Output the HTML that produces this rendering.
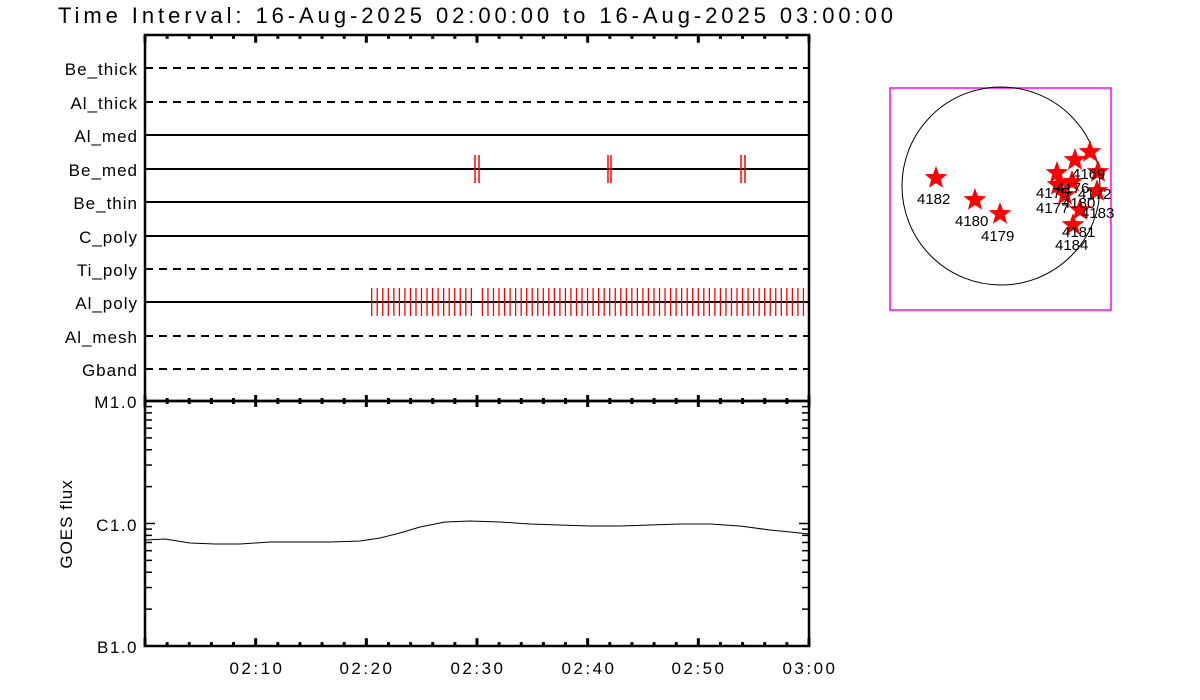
<!DOCTYPE html>
<html><head><meta charset="utf-8"><style>
html,body{margin:0;padding:0;background:#fff;}
svg{display:block;font-family:"Liberation Sans","DejaVu Sans",sans-serif;}
</style></head><body>
<svg width="1200" height="700" viewBox="0 0 1200 700" xmlns="http://www.w3.org/2000/svg">
<rect width="1200" height="700" fill="#fff"/>
<text x="58" y="23" font-size="22" fill="#000" textLength="835" lengthAdjust="spacing">Time Interval: 16-Aug-2025 02:00:00 to 16-Aug-2025 03:00:00</text>
<g font-size="17" text-anchor="end" fill="#000" letter-spacing="1">
<text x="138" y="75">Be_thick</text><text x="138" y="109">Al_thick</text><text x="138" y="142">Al_med</text>
<text x="138" y="176">Be_med</text><text x="138" y="209">Be_thin</text><text x="138" y="243">C_poly</text>
<text x="138" y="276">Ti_poly</text><text x="138" y="309">Al_poly</text><text x="138" y="343">Al_mesh</text>
<text x="138" y="376">Gband</text>
</g>
<g stroke="#000" stroke-width="2">
<line x1="145" y1="68" x2="809" y2="68" stroke-dasharray="8,6"/>
<line x1="145" y1="102" x2="809" y2="102" stroke-dasharray="8,6"/>
<line x1="145" y1="135" x2="809" y2="135"/>
<line x1="145" y1="169" x2="809" y2="169"/>
<line x1="145" y1="202" x2="809" y2="202"/>
<line x1="145" y1="236" x2="809" y2="236"/>
<line x1="145" y1="269" x2="809" y2="269" stroke-dasharray="8,6"/>
<line x1="145" y1="302" x2="809" y2="302"/>
<line x1="145" y1="336" x2="809" y2="336" stroke-dasharray="8,6"/>
<line x1="145" y1="369" x2="809" y2="369" stroke-dasharray="8,6"/>
</g>
<g stroke="#f00" stroke-width="1.3" id="ticks"></g>
<g stroke="#f00" stroke-width="1.5">
<line x1="475" y1="155" x2="475" y2="183"/><line x1="479" y1="155" x2="479" y2="183"/>
<line x1="608" y1="155" x2="608" y2="183"/><line x1="611" y1="155" x2="611" y2="183"/>
<line x1="741" y1="155" x2="741" y2="183"/><line x1="745" y1="155" x2="745" y2="183"/>
</g>
<g stroke="#000" stroke-width="2.5" fill="none">
<rect x="145" y="35" width="664" height="366"/>
<rect x="145" y="401" width="664" height="245"/>
</g>
<g id="xt" stroke="#000" stroke-width="3"></g>
<g id="yt" stroke="#000" stroke-width="1.5"></g>
<polyline fill="none" stroke="#000" stroke-width="1" points="145,540 165,539 190,543 215,544 240,544 270,542 300,542 330,542 360,541 380,538 400,533 420,527 445,522 470,521 500,522 530,524 560,525 590,526 620,526 650,525 680,524 710,524 740,526 770,530 790,532 809,534"/>
<g font-size="17" fill="#000" text-anchor="end" letter-spacing="1.5">
<text x="138" y="408">M1.0</text><text x="138" y="531">C1.0</text><text x="138" y="653">B1.0</text>
</g>
<text transform="translate(72,524) rotate(-90)" font-size="17" text-anchor="middle" letter-spacing="1">GOES flux</text>
<g font-size="17" text-anchor="middle" letter-spacing="2.5">
<text x="257" y="674">02:10</text><text x="367" y="674">02:20</text><text x="478" y="674">02:30</text>
<text x="589" y="674">02:40</text><text x="699" y="674">02:50</text><text x="810" y="674">03:00</text>
</g>
<rect x="890" y="88" width="221" height="222" fill="none" stroke="#f0f" stroke-width="1.5"/>
<circle cx="1001" cy="186" r="99" fill="none" stroke="#000" stroke-width="1"/>
<g id="stars" fill="#f00"></g>
<g font-size="15" fill="#000">
<text x="917" y="204">4182</text><text x="955" y="226">4180</text><text x="981" y="241">4179</text>
<text x="1036" y="198">4175</text><text x="1036" y="213">4177</text><text x="1056" y="193">4176</text>
<text x="1062" y="208">4180</text><text x="1072" y="179">4169</text><text x="1078" y="199">4172</text>
<text x="1081" y="218">4183</text><text x="1062" y="237">4181</text><text x="1055" y="250">4184</text>
</g>
</svg>
<script>
var ns="http://www.w3.org/2000/svg";
function L(g,x1,y1,x2,y2){var l=document.createElementNS(ns,"line");l.setAttribute("x1",x1);l.setAttribute("y1",y1);l.setAttribute("x2",x2);l.setAttribute("y2",y2);g.appendChild(l);}
var t=document.getElementById("ticks");
for(var x=371.7;x<=809;x+=5.535){if(Math.abs(x-476)<2)continue;L(t,x,288,x,316);}
var xt=document.getElementById("xt");
for(var k=0;k<=30;k++){var x=145+k*664/30,h=(k%5==0)?6:3;
L(xt,x,401-h,x,401+h);L(xt,x,35,x,35+h*1.3);L(xt,x,646,x,646-h*1.3);}
var yt=document.getElementById("yt");
for(var d=0;d<2;d++){var base=646-d*122.5;for(var m=1;m<=9;m++){var y=base-Math.log10(m)*122.5;L(yt,145,y,m==1?155:152,y);L(yt,809,y,m==1?799:802,y);}}
var st=document.getElementById("stars");
[[936,178],[975,200],[1000,214],[1057,173],[1075,160],[1090,152],[1098,172],[1097,191],[1080,210],[1073,225],[1058,185],[1072,182],[1065,195]].forEach(function(p){
var pts=[];for(var i=0;i<10;i++){var r=i%2?5:12,a=-Math.PI/2+i*Math.PI/5;pts.push((p[0]+r*Math.cos(a)).toFixed(1)+","+(p[1]+r*Math.sin(a)).toFixed(1));}
var pg=document.createElementNS(ns,"polygon");pg.setAttribute("points",pts.join(" "));st.appendChild(pg);});
</script>
</body></html>
